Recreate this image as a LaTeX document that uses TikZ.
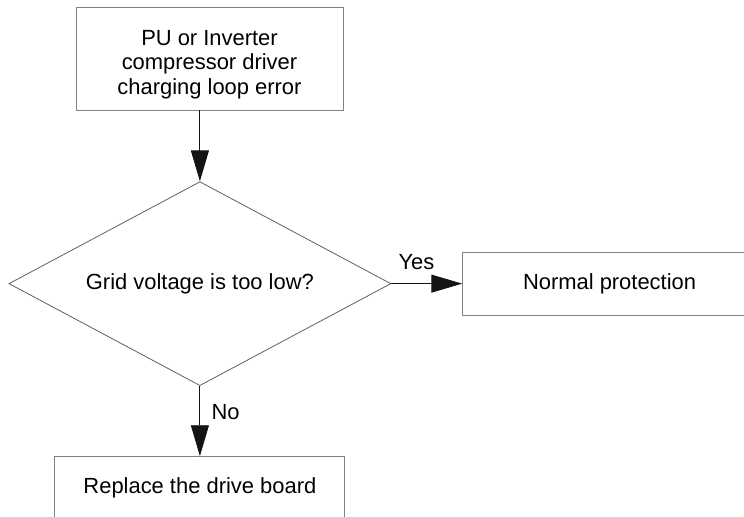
\documentclass[tikz,border=0pt]{standalone}
\usepackage{fontspec}
\setmainfont{Liberation Sans}
\usetikzlibrary{shapes.geometric,arrows.meta,positioning}
\definecolor{cinzaBorda}{RGB}{128,128,128}
\definecolor{cinzaSeta}{RGB}{20,20,20}
\tikzset{
  caixa/.style={rectangle, draw=cinzaBorda, line width=0.6pt, fill=white,
                minimum height=1.575cm, align=center,
                font=\fontsize{15.6}{17.7}\selectfont},
  decisao/.style={diamond, draw=cinzaBorda!80!black, line width=0.6pt, aspect=1.86,
                  inner sep=0pt, minimum width=9.55cm, minimum height=5.1cm,
                  align=center, font=\fontsize{15.6}{18.5}\selectfont},
  seta/.style={-{Triangle[length=0.77cm, width=0.45cm]}, line width=0.6pt, cinzaSeta},
  rotulo/.style={font=\fontsize{15.6}{18.5}\selectfont, inner sep=0pt},
}
\begin{document}
\begin{tikzpicture}[node distance=1.77cm]
  \useasboundingbox (0,0) rectangle (18.6,-12.9);
  \clip (0,0) rectangle (18.6,-12.9);
  \node[caixa, minimum width=6.675cm, minimum height=2.575cm] (erro) at (5.2375,-1.4625)
       {\rule{0pt}{19.5pt}PU or Inverter\\compressor driver\\charging loop error};
  \node[decisao, below=1.77cm of erro, xshift=-0.24cm] (tensao) {Grid voltage is too low?};
  \node[caixa, minimum width=7.35cm, right=1.77cm of tensao] (normal) {Normal protection};
  \node[caixa, minimum width=7.25cm, below=1.75cm of tensao] (placa) {Replace the drive board};
  \node[rotulo] (sim) at (10.41,-6.55) {Yes};
  \node[rotulo] (nao) at (5.64,-10.3) {No};
  \draw[seta] (tensao.north |- erro.south) -- (tensao.north);
  \draw[seta] (tensao.east) -- (normal.west);
  \draw[seta] (tensao.south) -- (placa.north);
\end{tikzpicture}
\end{document}
